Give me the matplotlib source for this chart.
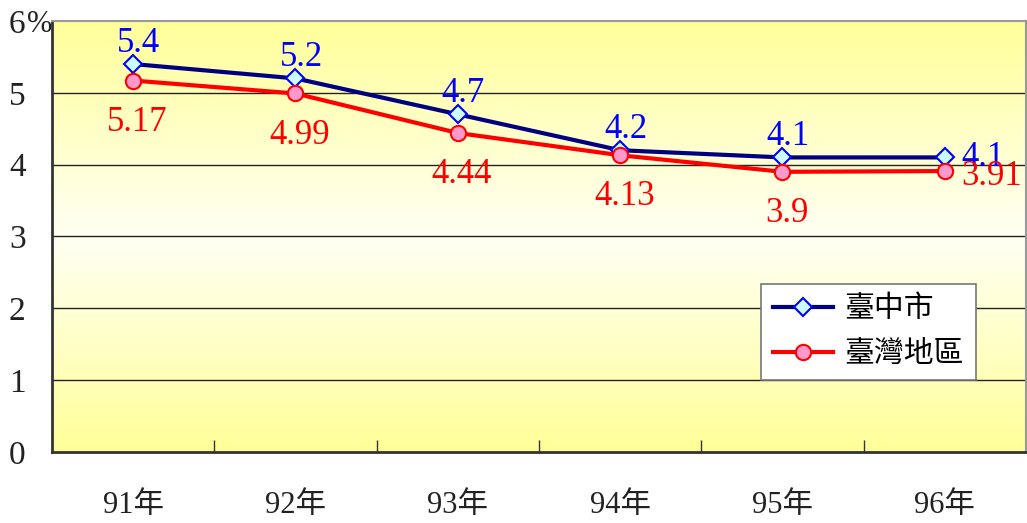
import numpy as np
import matplotlib.pyplot as plt
from matplotlib.colors import LinearSegmentedColormap

# 字体：数字用衬线体，中文用 Noto CJK
plt.rcParams['font.family'] = ['Liberation Serif', 'Noto Sans CJK TC']
plt.rcParams['axes.unicode_minus'] = False

years = ['91年', '92年', '93年', '94年', '95年', '96年']
taichung = [5.4, 5.2, 4.7, 4.2, 4.1, 4.1]
taiwan = [5.17, 4.99, 4.44, 4.13, 3.9, 3.91]
y_ticks = [0, 1, 2, 3, 4, 5, 6]

fig = plt.figure(figsize=(10.27, 5.23), dpi=100)
ax = fig.add_axes([0.0506, 0.1358, 0.9484, 0.8242])

x = np.arange(len(years))
ax.set_xlim(-0.5, len(years) - 0.5)
ax.set_ylim(0, 6)

# 背景渐变：上下黄色，中间接近白色
cmap = LinearSegmentedColormap.from_list('bg', ['#FFFF99', '#FFFFF4', '#FFFF99'])
grad = np.linspace(0, 1, 256).reshape(-1, 1)
ax.imshow(grad, cmap=cmap, aspect='auto', extent=[-0.5, len(years) - 0.5, 0, 6],
          zorder=0, interpolation='bicubic')

# 网格线
for v in y_ticks[1:-1]:
    ax.axhline(v, color='#222222', lw=1, zorder=1)

ax.plot(x, taichung, color='#000080', lw=3, marker='D', ms=9,
        mfc='#CCFFFF', mec='#0000FF', mew=1.5, label='臺中市', zorder=3)
ax.plot(x, taiwan, color='#FF0000', lw=3, marker='o', ms=11,
        mfc='#FF99CC', mec='#FF0000', mew=1.5, label='臺灣地區', zorder=3)

# 数据标签
for i, (a, b) in enumerate(zip(taichung, taiwan)):
    if i == len(years) - 1:
        ax.annotate(f'{a:g}', (x[i], a), xytext=(12, 0), textcoords='offset points',
                    color='#0000FF', fontsize=25, ha='left', va='center', zorder=4)
        ax.annotate(f'{b:g}', (x[i], b), xytext=(12, -4), textcoords='offset points',
                    color='#FF0000', fontsize=25, ha='left', va='center', zorder=4)
    else:
        ax.annotate(f'{a:g}', (x[i], a), xytext=(4, 15), textcoords='offset points',
                    color='#0000FF', fontsize=25, ha='center', va='center', zorder=4)
        ax.annotate(f'{b:g}', (x[i], b), xytext=(3, -30), textcoords='offset points',
                    color='#FF0000', fontsize=25, ha='center', va='center', zorder=4)

# 坐标轴
ax.set_yticks(y_ticks)
ax.set_yticklabels([str(v) for v in y_ticks], fontsize=24, color='#222222')
ax.tick_params(axis='y', length=0, pad=19)
ax.set_xticks(x)
ax.set_xticklabels(years, fontsize=22, color='#222222')
ax.tick_params(axis='x', length=0, pad=28)
ax.set_xticks(np.arange(0.5, len(years) - 0.5), minor=True)
ax.tick_params(axis='x', which='minor', direction='in', length=9, width=1, color='#333333')
fig.text(27 / 1027, 1 - 24 / 523, '%', fontsize=22, color='#222222', ha='left', va='center')

for side in ['left', 'bottom']:
    ax.spines[side].set_color('#333333')
    ax.spines[side].set_linewidth(2)
for side in ['top', 'right']:
    ax.spines[side].set_color('#999999')
    ax.spines[side].set_linewidth(1.5)

leg = ax.legend(loc='upper left', bbox_to_anchor=(0.728, 0.39), borderaxespad=0,
                fontsize=21.5, fancybox=False, framealpha=1, edgecolor='#777777',
                handlelength=2.0, borderpad=0.4, labelspacing=0.6, handletextpad=0.4)
leg.get_frame().set_linewidth(1.2)

fig.savefig('out.png', dpi=100)
